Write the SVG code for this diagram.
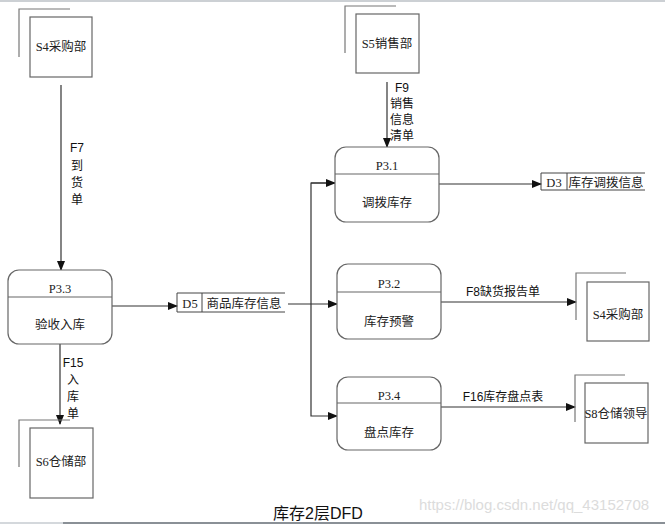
<svg xmlns="http://www.w3.org/2000/svg" width="665" height="525" viewBox="0 0 665 525">
<style>
.n{font-family:"Liberation Serif","Noto Sans CJK SC",serif;font-size:12.5px;fill:#222;text-anchor:middle}
.l{font-family:"Liberation Sans","Noto Sans CJK SC",sans-serif;font-size:12px;fill:#111;text-anchor:middle}
.box{fill:#fff;stroke:#666;stroke-width:1.2}
.ell{fill:none;stroke:#777;stroke-width:1.2}
.proc{fill:#fff;stroke:#666;stroke-width:1.2}
.ln{fill:none;stroke:#333;stroke-width:1.2}
.st{fill:none;stroke:#444;stroke-width:1}
</style>
<defs>
<marker id="a" markerWidth="10" markerHeight="8" refX="9" refY="4" orient="auto" markerUnits="userSpaceOnUse">
<path d="M0,0 L10,4 L0,8 Z" fill="#111"/>
</marker>
</defs>
<rect width="665" height="525" fill="#fff"/>
<line x1="0" y1="1" x2="665" y2="1" stroke="#ccd0d4" stroke-width="2"/>
<line x1="0" y1="523" x2="63" y2="523" stroke="#d4d8dc" stroke-width="2"/>
<line x1="63" y1="523" x2="665" y2="523" stroke="#8a9096" stroke-width="2"/>

<g id="connectors">
<line class="ln" x1="61" y1="85" x2="61" y2="270" marker-end="url(#a)"/>
<line class="ln" x1="387" y1="82" x2="387" y2="147" marker-end="url(#a)"/>
<line class="ln" x1="112" y1="306" x2="177" y2="306" marker-end="url(#a)"/>
<line class="ln" x1="60" y1="344" x2="60" y2="424" marker-end="url(#a)"/>
<line class="ln" x1="288" y1="304" x2="337" y2="304" marker-end="url(#a)"/>
<polyline class="ln" points="335,183 311,183 311,416 337,416" marker-end="url(#a)"/>
<line class="ln" x1="311" y1="183" x2="335" y2="183" marker-end="url(#a)"/>
<line class="ln" x1="439" y1="184" x2="541" y2="184" marker-end="url(#a)"/>
<line class="ln" x1="441" y1="302" x2="576" y2="302" marker-end="url(#a)"/>
<line class="ln" x1="441" y1="407" x2="575" y2="407" marker-end="url(#a)"/>
<text class="l" x="77" y="152">F7</text>
<text class="l" x="77" y="170">到</text>
<text class="l" x="77" y="187">货</text>
<text class="l" x="77" y="204">单</text>
<text class="l" x="402" y="92">F9</text>
<text class="l" x="402" y="108">销售</text>
<text class="l" x="402" y="124">信息</text>
<text class="l" x="402" y="140">清单</text>
<text class="l" x="73" y="367">F15</text>
<text class="l" x="73" y="384">入</text>
<text class="l" x="73" y="401">库</text>
<text class="l" x="73" y="418">单</text>
<text class="l" x="503" y="296">F8缺货报告单</text>
<text class="l" x="503" y="401">F16库存盘点表</text>
</g>

<g id="S4a">
<polyline class="ell" points="19,57 19,9 70,9"/>
<rect class="box" x="30" y="17" width="62" height="60"/>
<text class="n" x="61" y="51">S4采购部</text>
</g>
<g id="S5">
<polyline class="ell" points="345,53 345,6 396,6"/>
<rect class="box" x="356" y="14" width="63" height="59"/>
<text class="n" x="387" y="48">S5销售部</text>
</g>
<g id="P3_3">
<rect class="proc" x="8" y="270" width="104" height="74" rx="11"/>
<line class="proc" x1="8" y1="297" x2="112" y2="297"/>
<text class="n" x="60" y="293">P3.3</text>
<text class="n" x="60" y="329">验收入库</text>
</g>
<g id="D5">
<polyline class="st" points="285,293 177,293 177,312 285,312"/>
<line class="st" x1="202" y1="293" x2="202" y2="312"/>
<text class="n" x="190" y="308">D5</text>
<text class="n" x="244" y="308">商品库存信息</text>
</g>
<g id="S6">
<polyline class="ell" points="19,467 19,420 70,420"/>
<rect class="box" x="30" y="428" width="63" height="70"/>
<text class="n" x="61" y="466">S6仓储部</text>
</g>
<g id="P3_1">
<rect class="proc" x="335" y="147" width="104" height="75" rx="11"/>
<line class="proc" x1="335" y1="174" x2="439" y2="174"/>
<text class="n" x="387" y="170">P3.1</text>
<text class="n" x="387" y="207">调拨库存</text>
</g>
<g id="D3">
<polyline class="st" points="645,173 541,173 541,190 645,190"/>
<line class="st" x1="567" y1="173" x2="567" y2="190"/>
<text class="n" x="554" y="187">D3</text>
<text class="n" x="606" y="187">库存调拨信息</text>
</g>
<g id="P3_2">
<rect class="proc" x="337" y="264" width="104" height="75" rx="11"/>
<line class="proc" x1="337" y1="292" x2="441" y2="292"/>
<text class="n" x="389" y="288">P3.2</text>
<text class="n" x="389" y="326">库存预警</text>
</g>
<g id="S4b">
<polyline class="ell" points="576,320 576,273 626,273"/>
<rect class="box" x="587" y="282" width="62" height="59"/>
<text class="n" x="618" y="319">S4采购部</text>
</g>
<g id="P3_4">
<rect class="proc" x="337" y="377" width="104" height="73" rx="11"/>
<line class="proc" x1="337" y1="403" x2="441" y2="403"/>
<text class="n" x="389" y="400">P3.4</text>
<text class="n" x="389" y="437">盘点库存</text>
</g>
<g id="S8">
<polyline class="ell" points="575,422 575,375 625,375"/>
<rect class="box" x="585" y="383" width="63" height="60"/>
<text class="n" x="616" y="418">S8仓储领导</text>
</g>
<text x="318" y="519" font-family="Liberation Sans,Noto Sans CJK SC,sans-serif" font-size="16" fill="#111" text-anchor="middle">库存2层DFD</text>
<text x="534" y="510" font-family="Liberation Sans,Noto Sans CJK SC,sans-serif" font-size="15" fill="#dcdcdc" text-anchor="middle">https://blog.csdn.net/qq_43152708</text>
</svg>
